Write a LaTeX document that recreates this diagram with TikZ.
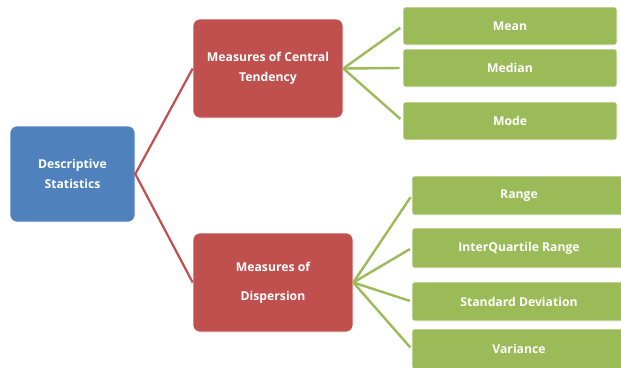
\documentclass[tikz,border=0pt]{standalone}
\usepackage{fontspec}
\setmainfont{Open Sans}
\definecolor{cblue}{HTML}{4F81BD}
\definecolor{cred}{HTML}{C0504D}
\definecolor{cgreen}{HTML}{9BBB59}
\begin{document}
\begin{tikzpicture}[x=1pt,y=-1pt,
  box/.style={draw=white, line width=0.6pt, text=white, align=center, inner sep=0pt,
    font=\fontsize{12.2}{19.5}\selectfont\bfseries},
  bluebox/.style={box, fill=cblue, rounded corners=7pt, minimum width=125pt, minimum height=96pt},
  redbox/.style={box, fill=cred, rounded corners=7pt, minimum height=99pt},
  greenbox/.style={box, fill=cgreen, rounded corners=2.5pt, minimum width=214pt},
  redline/.style={draw=cred, line width=2.2pt},
  greenline/.style={draw=cgreen, line width=2.4pt}]
\useasboundingbox (0,0) rectangle (621,367);
\node[bluebox] (ds) at (72.5,174) {Descriptive\\Statistics};
\node[redbox, minimum width=150pt] (ct) at (268,68.5) {Measures of Central\\Tendency};
\node[redbox, minimum width=160pt, font=\fontsize{12.2}{29}\selectfont\bfseries] (disp) at (273,282.5) {Measures of\\Dispersion};
\node[greenbox, minimum height=38pt] (mean) at (510,26) {Mean};
\node[greenbox, minimum height=38pt] (median) at (510,68) {Median};
\node[greenbox, minimum height=38pt] (mode) at (510,121) {Mode};
\node[greenbox, minimum height=39pt] (range) at (519,195.5) {Range};
\node[greenbox, minimum height=40pt] (iqr) at (519,248) {InterQuartile Range};
\node[greenbox, minimum height=39pt] (sd) at (519,301.5) {Standard Deviation};
\node[greenbox, minimum height=40pt] (var) at (519,349) {Variance};
\draw[redline] (ct.west) -- (ds.east) -- (disp.west);
\draw[greenline, shorten >=3pt] (ct.east) -- (mean.west);
\draw[greenline, shorten >=3pt] (ct.east) -- (median.west);
\draw[greenline, shorten >=3pt] (ct.east) -- (mode.west);
\draw[greenline, shorten >=2pt] (disp.east) -- (range.west);
\draw[greenline, shorten >=2pt] (disp.east) -- (iqr.west);
\draw[greenline, shorten >=2pt] (disp.east) -- (sd.west);
\draw[greenline, shorten >=2pt] (disp.east) -- (var.west);
\end{tikzpicture}
\end{document}
